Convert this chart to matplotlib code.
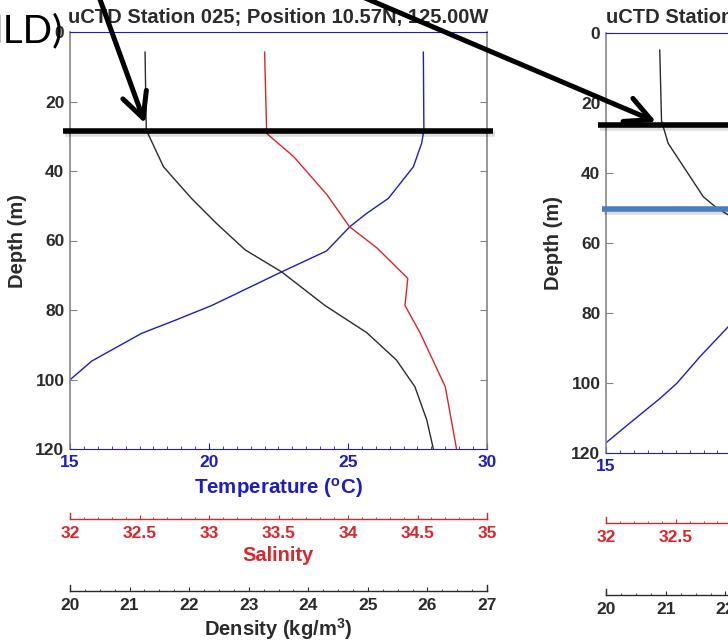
import matplotlib
matplotlib.use('Agg')
import matplotlib.pyplot as plt
import matplotlib.patheffects as pe
from matplotlib.ticker import MultipleLocator, FormatStrFormatter

# Station 025 profiles (depth in m)
t_depth_025 = [5.8, 28.2, 32.0, 38.8, 47.9, 52.2, 56.0, 63.0, 69.0, 78.7, 82.9, 86.7, 94.7, 100.1]
temp_025 = [27.71, 27.73, 27.65, 27.35, 26.45, 25.67, 25.07, 24.23, 22.62, 20.10, 18.80, 17.58, 15.78, 15.00]

s_depth_025 = [5.8, 29.2, 35.9, 46.9, 56.0, 62.2, 70.9, 78.7, 86.7, 102.1, 119.8]
sal_025 = [33.40, 33.415, 33.61, 33.85, 34.01, 34.21, 34.43, 34.41, 34.52, 34.70, 34.78]

r_depth_025 = [5.8, 28.2, 38.8, 47.9, 55.1, 62.7, 69.0, 78.7, 86.5, 94.4, 102.1, 111.7, 120.0]
rho_025 = [21.26, 21.28, 21.57, 22.04, 22.46, 22.94, 23.55, 24.28, 24.98, 25.48, 25.79, 25.99, 26.10]

# second station (only the shallow / cold end)
t_depth_b = [80.5, 84.4, 92.5, 100.1, 104.4, 112.2, 117.1]
temp_b = [19.80, 19.33, 18.37, 17.54, 16.94, 15.74, 15.00]

r_depth_b = [4.9, 25.1, 31.5, 46.8, 49.9, 52.0]
rho_b = [20.90, 20.93, 21.04, 21.63, 21.85, 22.05]

# mixed layer depths marked on the profiles
mld_025 = 28.5
mld_b = 26.3
ild_b = 50.3

title_025 = 'uCTD Station 025; Position 10.57N, 125.00W'
title_b = 'uCTD Station'

W, H = 728, 644
BLUE = '#1c1cc8'
RED = '#d8262b'
DARK = '#2b2b2b'
GRAY = '#858585'
FONT = 'Liberation Sans'

plt.rcParams['font.family'] = [FONT, 'DejaVu Sans']
plt.rcParams['font.weight'] = 'bold'
plt.rcParams['mathtext.fontset'] = 'custom'
plt.rcParams['mathtext.rm'] = FONT + ':bold'
plt.rcParams['mathtext.it'] = FONT + ':bold'
plt.rcParams['mathtext.bf'] = FONT + ':bold'


def px(x0, y_top, w, h):
    return [x0 / W, 1 - (y_top + h) / H, w / W, h / H]


def bold_ticks(axis):
    for lab in axis.get_ticklabels():
        lab.set_fontweight('bold')


def scale_axis(fig, x0, y_spine, w, share, color, major, minor, label, labelpad):
    sc = fig.add_axes(px(x0, y_spine - 6, w, 6), sharex=share)
    sc.patch.set_alpha(0)
    sc.set_yticks([])
    sc.spines['top'].set_visible(False)
    for s in ('bottom', 'left', 'right'):
        sc.spines[s].set_color(color)
        sc.spines[s].set_linewidth(1.0)
    sc.xaxis.set_major_locator(MultipleLocator(major))
    sc.xaxis.set_minor_locator(MultipleLocator(minor))
    sc.xaxis.set_major_formatter(FormatStrFormatter('%g'))
    sc.tick_params(axis='x', which='both', direction='in', colors=color,
                   labelsize=12.5, pad=5)
    sc.tick_params(axis='x', which='major', length=3)
    sc.tick_params(axis='x', which='minor', length=1.5)
    bold_ticks(sc.xaxis)
    sc.set_xlabel(label, color=color, fontsize=14.5, fontweight='bold', labelpad=labelpad)
    return sc


def make_panel(fig, x0, y0, w, h, title, title_loc='center'):
    ax = fig.add_axes(px(x0, y0, w, h))
    ax.set_xlim(15, 30)
    ax.set_ylim(120, 0)
    ax.xaxis.set_major_locator(MultipleLocator(5))
    ax.xaxis.set_minor_locator(MultipleLocator(0.5))
    ax.yaxis.set_major_locator(MultipleLocator(20))
    ax.tick_params(axis='x', which='both', direction='in', top=True, bottom=True,
                   colors=BLUE, labelsize=12.5, pad=4)
    ax.tick_params(axis='x', which='major', length=4)
    ax.tick_params(axis='x', which='minor', length=2)
    ax.tick_params(axis='y', direction='in', left=True, right=True, length=5,
                   color=GRAY, labelcolor=DARK, labelsize=12.5, pad=4)
    bold_ticks(ax.xaxis)
    bold_ticks(ax.yaxis)
    for s in ('top', 'bottom'):
        ax.spines[s].set_color(BLUE)
        ax.spines[s].set_linewidth(0.8)
    for s in ('left', 'right'):
        ax.spines[s].set_color(GRAY)
        ax.spines[s].set_linewidth(1.2)
    ax.set_xlabel('Temperature ($^{o}$C)', color=BLUE, fontsize=14.8,
                  fontweight='bold', labelpad=5)
    ax.set_ylabel('Depth (m)', color=DARK, fontsize=14.5, fontweight='bold', labelpad=6)
    if title_loc == 'left':
        ax.text(0, 1 + 10 / h, title, transform=ax.transAxes, ha='left', va='baseline',
                fontsize=14.5, fontweight='bold', color=DARK)
    else:
        ax.text(0.5, 1 + 9 / h, title, transform=ax.transAxes, ha='center', va='baseline',
                fontsize=14.5, fontweight='bold', color=DARK)

    ax_s = ax.twiny()
    ax_s.set_xlim(32, 35)
    ax_s.axis('off')
    ax_d = ax.twiny()
    ax_d.set_xlim(20, 27)
    ax_d.axis('off')

    scale_axis(fig, x0, y0 + h + 70, w, ax_s, RED, 0.5, 0.1, 'Salinity', 3.5)
    scale_axis(fig, x0, y0 + h + 142, w, ax_d, DARK, 1, 0.25, 'Density (kg/m$^{3}$)', 2.5)
    return ax, ax_s, ax_d


fig = plt.figure(figsize=(W / 100, H / 100), dpi=100)
fig.patch.set_facecolor('white')

shadow = [pe.SimpleLineShadow(offset=(1.5, -2), alpha=0.13, shadow_color='black'), pe.Normal()]

# left panel: station 025
ax, ax_s, ax_d = make_panel(fig, 70, 32, 417, 417, title_025)
ax.plot(temp_025, t_depth_025, color=BLUE, lw=1.0)
ax_s.plot(sal_025, s_depth_025, color=RED, lw=1.0)
ax_d.plot(rho_025, r_depth_025, color=DARK, lw=1.0)
ax_d.plot([-0.017, 1.014], [mld_025, mld_025], transform=ax_d.get_yaxis_transform(),
          clip_on=False, color='black', lw=4, solid_capstyle='butt', path_effects=shadow)

# right panel: second station
bx, bx_s, bx_d = make_panel(fig, 606, 33, 418, 420, title_b, title_loc='left')
bx.plot(temp_b, t_depth_b, color=BLUE, lw=1.0)
bx_d.plot(rho_b, r_depth_b, color=DARK, lw=1.0)
bx_d.plot([-0.019, 1.0], [mld_b, mld_b], transform=bx_d.get_yaxis_transform(),
          clip_on=False, color='black', lw=4, solid_capstyle='butt', path_effects=shadow)
bx_d.plot([-0.01, 1.0], [ild_b, ild_b], transform=bx_d.get_yaxis_transform(),
          clip_on=False, color='#4a7ebb', lw=4, solid_capstyle='butt', path_effects=shadow)

# arrows pointing at the mixed layer base
arrow = dict(arrowstyle='->,head_length=0.9,head_width=0.45', lw=3.6, color='black',
             shrinkA=0, shrinkB=0, mutation_scale=20)
ax_d.annotate('', xy=(21.26, 26.3), xycoords='data',
              xytext=(98, H + 6), textcoords='figure pixels', arrowprops=arrow)
bx_d.annotate('', xy=(20.84, 25.4), xycoords='data',
              xytext=(358, H + 5), textcoords='figure pixels', arrowprops=arrow)

fig.text(63 / W, 1 - 42 / H, 'ILD)', ha='right', va='baseline', fontsize=28,
         family='Lato', fontweight='normal', color='black')

fig.savefig('out.png', dpi=100, facecolor='white')
